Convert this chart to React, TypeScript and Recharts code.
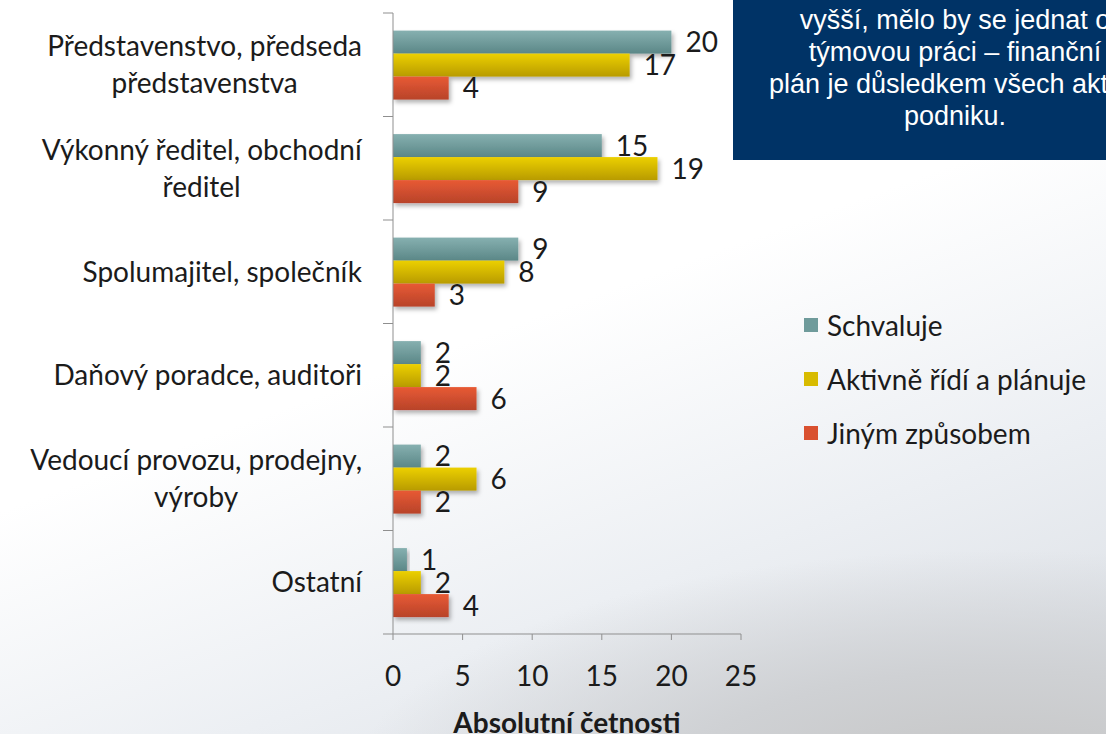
import React from "react";
import { BarChart, Bar, XAxis, YAxis, LabelList, Label } from "recharts";

const categories = [
  "Představenstvo, předseda\npředstavenstva",
  "Výkonný ředitel, obchodní\nředitel",
  "Spolumajitel, společník",
  "Daňový poradce, auditoři",
  "Vedoucí provozu, prodejny,\nvýroby",
  "Ostatní",
];
const schvaluje = [20, 15, 9, 2, 2, 1];
const aktivne = [17, 19, 8, 2, 6, 2];
const jinym = [4, 9, 3, 6, 2, 4];
const xTicks = [0, 5, 10, 15, 20, 25];

const series = [
  { key: "schvaluje", name: "Schvaluje", top: "#86b0b0", bottom: "#5b8787", solid: "#6f9b9b" },
  { key: "aktivne", name: "Aktivně řídí a plánuje", top: "#ecd000", bottom: "#b89b00", solid: "#d8bb00" },
  { key: "jinym", name: "Jiným způsobem", top: "#e85a34", bottom: "#b8432a", solid: "#d9502f" },
];

const noteLines = [
  "vyšší, mělo by se jednat o",
  "týmovou práci – finanční",
  "plán je důsledkem všech aktivit",
  "podniku.",
];

const data = categories.map((name, i) => ({
  name,
  schvaluje: schvaluje[i],
  aktivne: aktivne[i],
  jinym: jinym[i],
}));

const FONT = "Lato, 'Open Sans', sans-serif";
const LABEL_SIZE = 28;
const W = 1106;
const H = 734;
const MARGIN_TOP = 13;
const X_AXIS_H = 100;

let ctx: CanvasRenderingContext2D | null = null;
function textWidth(s: string) {
  if (!ctx) {
    ctx = document.createElement("canvas").getContext("2d");
  }
  if (!ctx) return s.length * 13;
  ctx.font = `${LABEL_SIZE}px Lato`;
  return ctx.measureText(s).width;
}

function CategoryTick(props: any) {
  const { x, y, payload, index, visibleTicksCount } = props;
  const lines = String(payload.value).split("\n");
  const band =
    payload.offset && payload.offset > 0
      ? payload.offset * 2
      : (H - MARGIN_TOP - X_AXIS_H) / categories.length;
  const maxW = Math.max(...lines.map(textWidth));
  const right = x - 31;
  const cx = right - maxW / 2;
  const lh = 37;
  const y0 = y - ((lines.length - 1) * lh) / 2;
  return (
    <g>
      <line x1={x - 10} x2={x} y1={y - band / 2} y2={y - band / 2} stroke="#8f8f8f" />
      {index === visibleTicksCount - 1 && (
        <line x1={x - 10} x2={x} y1={y + band / 2} y2={y + band / 2} stroke="#8f8f8f" />
      )}
      <text
        fontFamily={FONT}
        fontSize={LABEL_SIZE}
        fill="#1b1b1b"
        textAnchor={lines.length > 1 ? "middle" : "end"}
      >
        {lines.map((l, i) => (
          <tspan key={i} x={lines.length > 1 ? cx : right} y={y0 + i * lh} dy="0.35em">
            {l}
          </tspan>
        ))}
      </text>
    </g>
  );
}

function makeShape(id: string) {
  return (props: any) => {
    const { x, y, width, height } = props;
    if (!width || width <= 0) return <g />;
    return (
      <rect
        x={x}
        y={y}
        width={width}
        height={height}
        fill={`url(#grad-${id})`}
        filter="url(#barShadow)"
      />
    );
  };
}

export default function App() {
  return (
    <div
      style={{
        position: "fixed",
        left: 0,
        top: 0,
        width: W,
        height: H,
        overflow: "hidden",
        background:
          "radial-gradient(ellipse 650px 240px at 1000px 790px, #c4c4c4 0%, #cfd1d4 50%, rgba(220,224,230,0) 100%), linear-gradient(160deg, #ffffff 0%, #ffffff 45%, #eceff3 72%, #d9dde3 100%)",
      }}
    >
      <BarChart
        width={W}
        height={H}
        data={data}
        layout="vertical"
        margin={{ top: MARGIN_TOP, right: 365, bottom: 0, left: 0 }}
        barCategoryGap="17%"
        barGap={0}
      >
        <defs>
          {series.map((s) => (
            <linearGradient key={s.key} id={`grad-${s.key}`} x1="0" y1="0" x2="0" y2="1">
              <stop offset="0%" stopColor={s.top} />
              <stop offset="100%" stopColor={s.bottom} />
            </linearGradient>
          ))}
          <filter id="barShadow" x="-10%" y="-20%" width="130%" height="160%">
            <feDropShadow dx="2" dy="3" stdDeviation="2" floodColor="#000" floodOpacity="0.3" />
          </filter>
        </defs>
        <XAxis
          type="number"
          domain={[0, 25]}
          ticks={xTicks}
          height={X_AXIS_H}
          tickSize={6}
          tickMargin={26}
          stroke="#8f8f8f"
          tick={{ fontFamily: FONT, fontSize: LABEL_SIZE, fill: "#1b1b1b" }}
        >
          <Label
            value="Absolutní četnosti"
            position="insideBottom"
            offset={1}
            style={{ fontFamily: FONT, fontSize: 28, fontWeight: 700, fill: "#1b1b1b" }}
          />
        </XAxis>
        <YAxis
          type="category"
          dataKey="name"
          width={393}
          tickLine={false}
          tickSize={0}
          tickMargin={0}
          stroke="#8f8f8f"
          tick={<CategoryTick />}
          interval={0}
        />
        {series.map((s) => (
          <Bar
            key={s.key}
            dataKey={s.key}
            name={s.name}
            isAnimationActive={false}
            shape={makeShape(s.key)}
          >
            <LabelList
              dataKey={s.key}
              position="right"
              offset={14}
              style={{ fontFamily: FONT, fontSize: LABEL_SIZE, fill: "#1b1b1b" }}
            />
          </Bar>
        ))}
      </BarChart>

      <div
        style={{
          position: "absolute",
          left: 804,
          top: 298,
          fontFamily: FONT,
          fontSize: LABEL_SIZE,
          color: "#1b1b1b",
        }}
      >
        {series.map((s) => (
          <div key={s.key} style={{ display: "flex", alignItems: "center", height: 54 }}>
            <span
              style={{
                display: "inline-block",
                width: 14,
                height: 14,
                background: s.solid,
                marginRight: 9,
              }}
            />
            {s.name}
          </div>
        ))}
      </div>

      <div
        style={{
          position: "absolute",
          left: 733,
          top: 0,
          width: W - 733,
          height: 160,
          background: "#003366",
          overflow: "hidden",
        }}
      >
        <div
          style={{
            position: "absolute",
            left: 0,
            top: 4,
            width: 444,
            textAlign: "center",
            fontFamily: "'Liberation Sans', Arial, sans-serif",
            fontSize: 27,
            lineHeight: "32px",
            color: "#ffffff",
            whiteSpace: "nowrap",
          }}
        >
          {noteLines.map((l, i) => (
            <div key={i}>{l}</div>
          ))}
        </div>
      </div>
    </div>
  );
}
